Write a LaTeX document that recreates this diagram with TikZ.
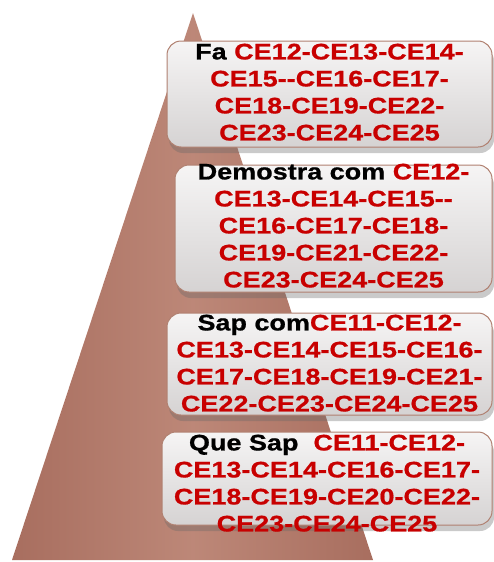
\documentclass[tikz,border=0pt]{standalone}
\usepackage{fontspec}
\setmainfont{Liberation Sans}
\newfontfamily\levelfont{Liberation Sans}[FakeStretch=1.2, FakeBold=0.8]
\usetikzlibrary{shadows}

\definecolor{pyramid}{RGB}{183,125,108}
\definecolor{pyramiddark}{RGB}{168,110,95}
\definecolor{levelred}{RGB}{200,0,0}
\definecolor{levelline}{RGB}{176,128,112}
\definecolor{levelfill}{RGB}{232,229,229}

\begin{document}
\begin{tikzpicture}[
    x=1pt, y=-1pt,
    level/.style={rectangle, rounded corners=14pt, draw=levelline, line width=1pt,
                  top color=levelfill!40!white, bottom color=levelfill!92!black,
                  drop shadow={shadow xshift=2pt, shadow yshift=-6pt, opacity=0.35, fill=black!60}},
    leveltext/.style={anchor=north, inner sep=0pt, align=center, text=levelred,
                      font=\levelfont\bfseries\fontsize{22.5}{27}\selectfont}
]
\useasboundingbox (0,0) rectangle (493,562);

% Pyramid
\shade[left color=pyramiddark, right color=pyramiddark, middle color=pyramid!92!white]
    (193,13) -- (373,560) -- (12,560) -- cycle;

% Level 1: Fa
\node[level, minimum width=325pt, minimum height=106pt] (b1) at (329.5,94) {};
\node[leveltext] (t1) at ([yshift=-3pt]b1.north) {\textcolor{black}{Fa} CE12-CE13-CE14-\\CE15-\kern0pt-CE16-CE17-\\CE18-CE19-CE22-\\CE23-CE24-CE25};

% Level 2: Demostra com
\node[level, minimum width=317pt, minimum height=127pt] (b2) at (333.5,228.5) {};
\node[leveltext] (t2) at ([yshift=1pt]b2.north) {\textcolor{black}{Demostra com} CE12-\\CE13-CE14-CE15-\kern0pt-\\CE16-CE17-CE18-\\CE19-CE21-CE22-\\CE23-CE24-CE25};

% Level 3: Sap com
\node[level, minimum width=325pt, minimum height=102pt] (b3) at (329.5,364) {};
\node[leveltext] (t3) at ([yshift=-2pt]b3.north) {\textcolor{black}{Sap com}CE11-CE12-\\CE13-CE14-CE15-CE16-\\CE17-CE18-CE19-CE21-\\CE22-CE23-CE24-CE25};

% Level 4: Que Sap
\node[level, minimum width=330pt, minimum height=93pt] (b4) at (327,478.5) {};
\node[leveltext] (t4) at ([yshift=-3pt]b4.north) {\textcolor{black}{Que Sap}\ \ CE11-CE12-\\CE13-CE14-CE16-CE17-\\CE18-CE19-CE20-CE22-\\CE23-CE24-CE25};

\end{tikzpicture}
\end{document}
